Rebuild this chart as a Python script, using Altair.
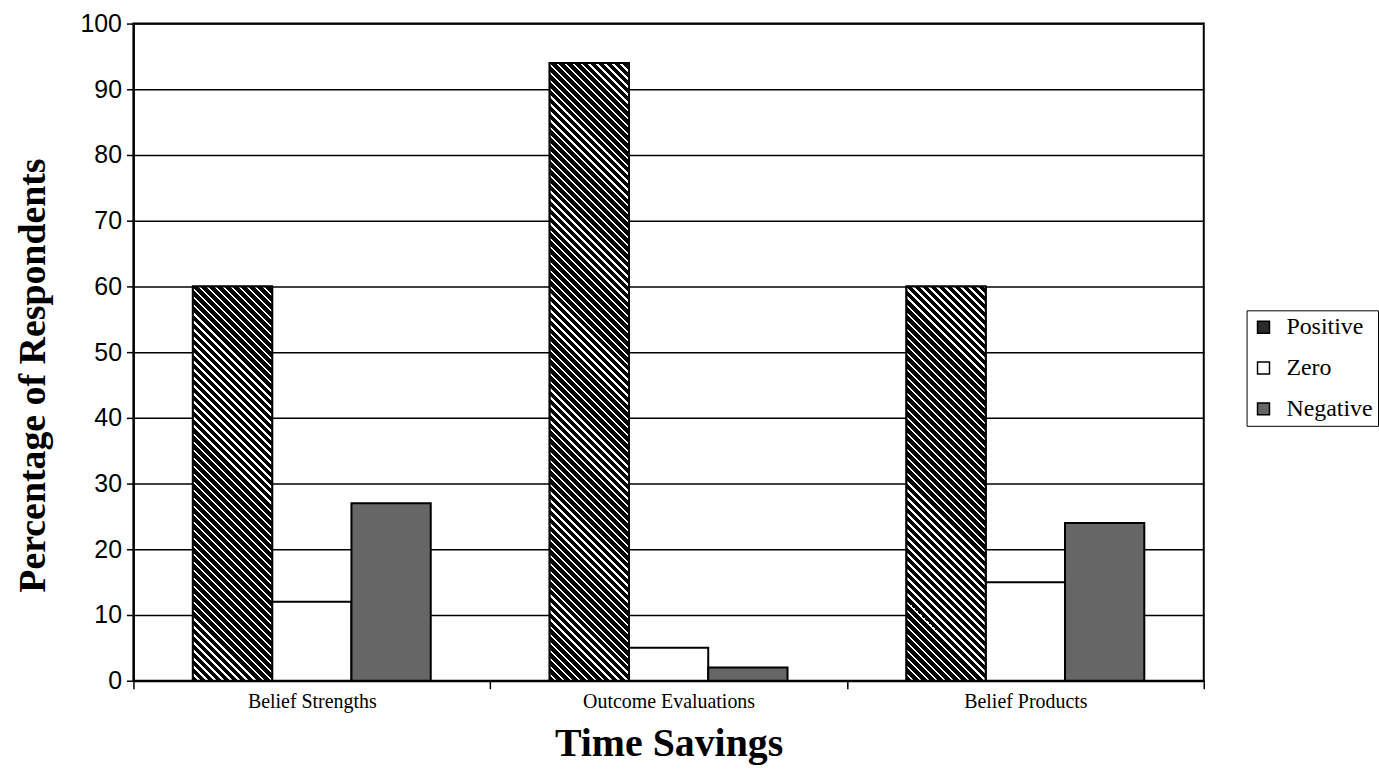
import altair as alt
import pandas as pd

# Survey results: share of respondents per response sign
categories = ["Belief Strengths", "Outcome Evaluations", "Belief Products"]
series = ["Positive", "Zero", "Negative"]
positive = [60, 94, 60]
zero = [12, 5, 15]
negative = [27, 2, 24]
y_ticks = list(range(0, 101, 10))

rows = []
for i, cat in enumerate(categories):
    for name, vals in zip(series, [positive, zero, negative]):
        rows.append({"category": cat, "series": name, "value": vals[i]})
df = pd.DataFrame(rows)

PLOT_W = 1075
PLOT_H = 660
OUTER_PAD = 0.75
BAR_W = PLOT_W / len(categories) / (len(series) + 2 * OUTER_PAD)
STRIPE_PERIOD = 8.0   # horizontal distance between hatch lines, px
INK = 0.70            # black share of each hatch period


def hatch_fill(value):
    """Diagonal black/white hatching for a bar of the given value."""
    w = BAR_W
    h = value / 100 * PLOT_H
    a = (w + h) / (w * w + h * h)
    n = max(1, round((w + h) / STRIPE_PERIOD))
    stops = []
    for i in range(n):
        o0 = round(i / n, 6)
        o1 = round((i + INK) / n, 6)
        o2 = round((i + 1) / n, 6)
        stops += [
            alt.GradientStop(color="black", offset=o0),
            alt.GradientStop(color="black", offset=o1),
            alt.GradientStop(color="white", offset=o1),
            alt.GradientStop(color="white", offset=o2),
        ]
    return alt.LinearGradient(
        gradient="linear", stops=stops, x1=0, y1=1, x2=a * w, y2=1 - a * h
    )


x_enc = alt.X(
    "category:N",
    scale=alt.Scale(domain=categories, paddingInner=0, paddingOuter=0),
    axis=alt.Axis(
        title="Time Savings",
        labelAngle=0,
        labelFont="Liberation Serif",
        labelFontSize=20,
        labelColor="black",
        labelPadding=3,
        tickBand="extent",
        tickColor="black",
        tickSize=8,
        tickWidth=1.5,
        domainColor="black",
        domainWidth=2,
        titleFont="Liberation Serif",
        titleFontSize=40,
        titleFontWeight="bold",
        titleColor="black",
        titlePadding=12,
    ),
)
xoff_enc = alt.XOffset(
    "series:N",
    scale=alt.Scale(domain=series, paddingInner=0, paddingOuter=OUTER_PAD),
)
y_enc = alt.Y(
    "value:Q",
    scale=alt.Scale(domain=[0, 100], nice=False),
    axis=alt.Axis(
        title="Percentage of Respondents",
        values=y_ticks,
        labelFont="Liberation Sans",
        labelFontSize=25,
        labelColor="black",
        labelPadding=5,
        tickColor="black",
        tickSize=7,
        tickWidth=1.5,
        domainColor="black",
        domainWidth=2,
        gridColor="black",
        gridWidth=1.5,
        gridOpacity=1,
        titleFont="Liberation Serif",
        titleFontSize=38,
        titleFontWeight="bold",
        titleColor="black",
        titlePadding=28,
        titleY=353,
    ),
)

base = alt.Chart(df).mark_bar(stroke="black", strokeWidth=2, opacity=1).encode(
    x=x_enc,
    xOffset=xoff_enc,
    y=y_enc,
    color=alt.Color(
        "series:N",
        scale=alt.Scale(domain=series, range=["#2b2b2b", "#ffffff", "#666666"]),
        legend=alt.Legend(
            title=None,
            orient="none",
            legendX=1118,
            legendY=288,
            direction="vertical",
            strokeColor="black",
            fillColor="white",
            padding=5,
            symbolType="square",
            symbolSize=144,
            symbolStrokeColor="black",
            symbolStrokeWidth=1.5,
            symbolOpacity=1,
            labelFont="Liberation Serif",
            labelFontSize=24,
            labelColor="black",
            labelOffset=11,
            rowPadding=17,
        ),
    ),
)

# hatched fill for each positive bar
hatched = []
for cat, val in zip(categories, positive):
    hatched.append(
        alt.Chart(df)
        .transform_filter((alt.datum.category == cat) & (alt.datum.series == "Positive"))
        .mark_bar(fill=hatch_fill(val), stroke="black", strokeWidth=2, opacity=1)
        .encode(x=x_enc, xOffset=xoff_enc, y=y_enc)
    )

chart = (
    alt.layer(base, *hatched)
    .properties(
        width=PLOT_W,
        height=PLOT_H,
        padding={"left": 14, "top": 10, "right": 0, "bottom": 4},
        background="white",
    )
    .configure_view(stroke="black", strokeWidth=2)
)

chart.save("out.html", embed_options={"renderer": "svg", "actions": False})
